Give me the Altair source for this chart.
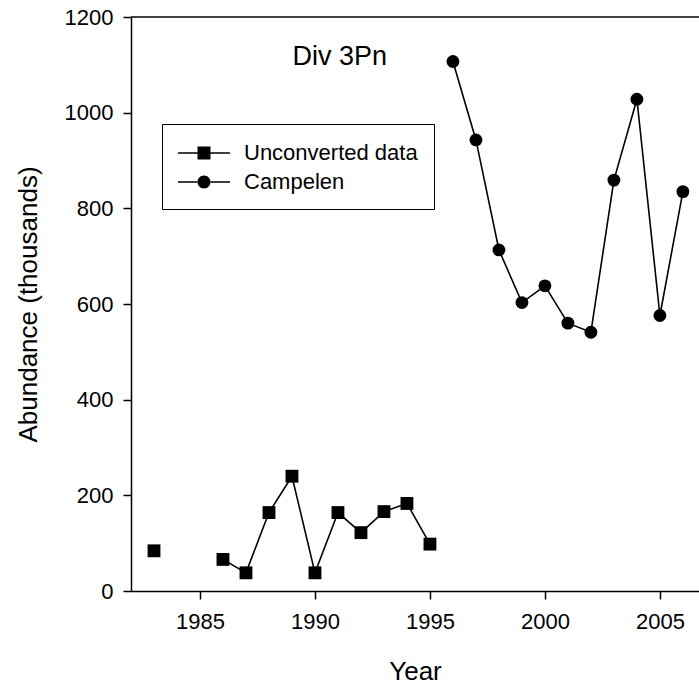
import altair as alt
import pandas as pd

# Survey abundance index (thousands), Div 3Pn
unconv_years = [1983, 1986, 1987, 1988, 1989, 1990, 1991, 1992, 1993, 1994, 1995]
unconv_vals = [84, 66, 38, 164, 240, 38, 164, 122, 166, 183, 98]
unconv_segment = ["a", "b", "b", "b", "b", "b", "b", "b", "b", "b", "b"]

campelen_years = [1996, 1997, 1998, 1999, 2000, 2001, 2002, 2003, 2004, 2005, 2006]
campelen_vals = [1107, 943, 713, 603, 638, 560, 541, 859, 1028, 576, 835]

series_names = ["Unconverted data", "Campelen"]
x_ticks = [1985, 1990, 1995, 2000, 2005]
y_ticks = [0, 200, 400, 600, 800, 1000, 1200]

df = pd.concat([
    pd.DataFrame({"year": unconv_years, "value": unconv_vals,
                  "series": series_names[0],
                  "seg": [series_names[0] + s for s in unconv_segment]}),
    pd.DataFrame({"year": campelen_years, "value": campelen_vals,
                  "series": series_names[1], "seg": series_names[1]}),
], ignore_index=True)

FONT = "Liberation Sans"

x = alt.X("year:Q", scale=alt.Scale(domain=[1982, 2006.7], nice=False, zero=False),
          axis=alt.Axis(values=x_ticks, format="d", title="Year",
                        titlePadding=26))
y = alt.Y("value:Q", scale=alt.Scale(domain=[0, 1200], nice=False),
          axis=alt.Axis(values=y_ticks, format="d", title="Abundance (thousands)",
                        titlePadding=23))

base = alt.Chart(df)

lines = base.mark_line(color="black", strokeWidth=1.6).encode(
    x=x, y=y, detail="seg:N")

points = base.mark_point(filled=True, color="black", size=165, opacity=1).encode(
    x=x, y=y,
    shape=alt.Shape("series:N",
                    scale=alt.Scale(domain=series_names, range=["square", "circle"]),
                    legend=None))

# legend symbols: short line on each side of the marker (all filled shapes)
stub = "M-2,-0.06H-0.48V0.06H-2ZM0.48,-0.06H2V0.06H0.48Z"
sq_path = stub + "M-0.5,-0.5H0.5V0.5H-0.5Z"
ci_path = stub + "M-0.5,0A0.5,0.5 0 1,0 0.5,0A0.5,0.5 0 1,0 -0.5,0Z"

legend_layer = base.transform_filter("datum.year < 0").mark_point(
    filled=True, color="black", opacity=1).encode(
    x=x, y=y,
    shape=alt.Shape("series:N",
                    scale=alt.Scale(domain=series_names, range=[sq_path, ci_path]),
                    legend=alt.Legend(title=None, orient="none",
                                      legendX=31, legendY=107,
                                      padding=16, rowPadding=5,
                                      symbolOffset=13,
                                      fillColor="white", strokeColor="black",
                                      symbolSize=676, symbolStrokeWidth=0,
                                      symbolFillColor="black",
                                      labelFontSize=22, labelOffset=27,
                                      labelLimit=400,
                                      labelFont=FONT, labelColor="black")))

top_rule = alt.Chart(pd.DataFrame({"value": [1200]})).mark_rule(
    color="black", strokeWidth=1.5).encode(y=alt.Y("value:Q"))

label = alt.Chart(pd.DataFrame({"year": [1993.13], "value": [1100], "t": ["Div 3Pn"]})).mark_text(
    align="right", baseline="alphabetic", fontSize=27, font=FONT, color="black"
).encode(x="year:Q", y="value:Q", text="t:N")

chart = alt.layer(top_rule, lines, points, legend_layer, label).resolve_scale(
    shape="independent"
).properties(
    width=568, height=574,
    autosize=alt.AutoSizeParams(type="none"),
    padding={"left": 131, "top": 17, "right": 0, "bottom": 96},
).configure_view(stroke=None).configure_axis(
    grid=False, domainColor="black", domainWidth=1.5,
    tickColor="black", tickWidth=1.5, tickSize=8,
    labelFont=FONT, labelFontSize=22, labelColor="black", labelPadding=10,
    titleFont=FONT, titleFontSize=26, titleFontWeight="normal", titleColor="black",
).configure_axisX(labelPadding=12)

chart.save("out.html", embed_options={"renderer": "svg", "actions": False})
